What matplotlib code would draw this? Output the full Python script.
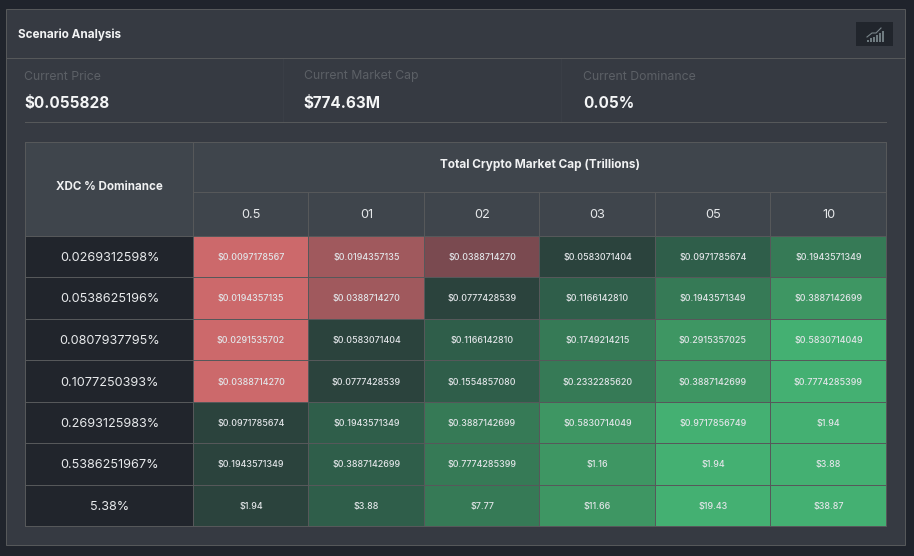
import matplotlib as mpl
from matplotlib import pyplot as plt
from matplotlib.colors import ListedColormap
from matplotlib.patches import Rectangle
import numpy as np

plt.rcParams['font.family'] = ['Inter', 'DejaVu Sans']

title = 'Scenario Analysis'
stat_labels = ['Current Price', 'Current Market Cap', 'Current Dominance']
stat_values = ['$0.055828', '$774.63M', '0.05%']
row_header = 'XDC % Dominance'
col_header = 'Total Crypto Market Cap (Trillions)'
market_caps = ['0.5', '01', '02', '03', '05', '10']
dominance = ['0.0269312598%', '0.0538625196%', '0.0807937795%', '0.1077250393%',
             '0.2693125983%', '0.5386251967%', '5.38%']
prices = [
    ['$0.0097178567', '$0.0194357135', '$0.0388714270', '$0.0583071404', '$0.0971785674', '$0.1943571349'],
    ['$0.0194357135', '$0.0388714270', '$0.0777428539', '$0.1166142810', '$0.1943571349', '$0.3887142699'],
    ['$0.0291535702', '$0.0583071404', '$0.1166142810', '$0.1749214215', '$0.2915357025', '$0.5830714049'],
    ['$0.0388714270', '$0.0777428539', '$0.1554857080', '$0.2332285620', '$0.3887142699', '$0.7774285399'],
    ['$0.0971785674', '$0.1943571349', '$0.3887142699', '$0.5830714049', '$0.9717856749', '$1.94'],
    ['$0.1943571349', '$0.3887142699', '$0.7774285399', '$1.16', '$1.94', '$3.88'],
    ['$1.94', '$3.88', '$7.77', '$11.66', '$19.43', '$38.87'],
]
# colour step of each cell, 0-2 reds then 3-7 greens
levels = [
    [0, 1, 2, 3, 4, 5],
    [0, 1, 3, 4, 5, 6],
    [0, 3, 4, 5, 6, 7],
    [0, 3, 4, 5, 6, 7],
    [3, 4, 5, 6, 7, 7],
    [3, 4, 5, 6, 7, 7],
    [3, 4, 5, 6, 7, 7],
]
level_colors = ['#cc696b', '#a0595d', '#7a4a50', '#2b433d', '#2f5e4a', '#367a56', '#3e9663', '#44b072']

page_bg = '#20242c'
panel_bg = '#363a42'
head_bg = '#3f454c'
row_bg = '#21252c'
line_col = '#56585a'
faint = '#5c6066'
LW = 0.72  # one pixel

x_edges = [25, 193, 308, 424, 539, 655, 770, 886]
y_edges = [236, 277, 319, 360, 402, 443, 485, 526]
top = 142
mid = 192

fig = plt.figure(figsize=(9.14, 5.56), dpi=100, facecolor=page_bg)
ax = fig.add_axes([0, 0, 1, 1])
ax.set_xlim(0, 914)
ax.set_ylim(556, 0)
ax.axis('off')

# panel and separators
ax.add_patch(Rectangle((6, 9), 899, 536, fc=panel_bg, ec=line_col, lw=LW, zorder=1))
ax.plot([6, 905], [58, 58], color=line_col, lw=LW, zorder=2)
ax.plot([25, 886], [122, 122], color=line_col, lw=LW, zorder=2)
for x in [283, 561]:
    ax.plot([x, x], [59, 121], color='#3a3e46', lw=LW, zorder=2)

ax.text(18, 34.6, title, color='#f2f3f4', fontsize=8.45, fontweight='bold', va='center', ha='left', zorder=5)

# icon button
ax.add_patch(Rectangle((856, 22), 37, 24, fc='#21252c', ec='none', zorder=2))
for bx, bh in zip([867, 870, 873, 876, 879, 881.5], [2, 4, 5, 7, 9, 11]):
    ax.add_patch(Rectangle((bx, 41.5 - bh), 2, bh, fc='#6f7b80', ec='none', zorder=3))
ax.plot([867, 872, 876, 881], [37, 33, 33, 28], color='#79858a', lw=0.8, zorder=3)

for i, (lab, val) in enumerate(zip(stat_labels, stat_values)):
    x = [24.5, 303.5, 583][i]
    ax.text(x, 76.5, lab, color=faint, fontsize=8.8, va='center', ha='left', zorder=5)
    ax.text(x, 103.2, val, color='#f4f5f6', fontsize=11, fontweight='bold', va='center', ha='left', zorder=5)

# table header
ax.add_patch(Rectangle((x_edges[0], top), x_edges[-1] - x_edges[0], y_edges[0] - top, fc=head_bg, ec=line_col, lw=LW, zorder=2))
ax.plot([x_edges[1], x_edges[1]], [top, y_edges[0]], color=line_col, lw=LW, zorder=3)
ax.plot([x_edges[1], x_edges[-1]], [mid, mid], color=line_col, lw=LW, zorder=3)
ax.text(109.5, 187, row_header, color='#f0f1f2', fontsize=8.35, fontweight='bold', va='center', ha='center', zorder=5)
ax.text(539.5, 165, col_header, color='#f0f1f2', fontsize=8.5, fontweight='bold', va='center', ha='center', zorder=5)

for j, cap in enumerate(market_caps):
    cx = (x_edges[j + 1] + x_edges[j + 2]) / 2 + 0.5
    ax.text(cx, 214.5, cap, color='#e6e8ea', fontsize=9.2, va='center', ha='center', zorder=5)
    if j > 0:
        ax.plot([x_edges[j + 1]] * 2, [mid, y_edges[0]], color=line_col, lw=LW, zorder=3)

# cells
cmap = ListedColormap(level_colors)
ax.pcolormesh(x_edges[1:], y_edges, np.array(levels), cmap=cmap, vmin=-0.5, vmax=7.5,
              edgecolors=line_col, linewidth=LW, zorder=2)
ax.pcolormesh(x_edges[:2], y_edges, np.zeros((7, 1)), cmap=ListedColormap([row_bg]),
              edgecolors=line_col, linewidth=LW, zorder=2)

for i, dom in enumerate(dominance):
    cy = (y_edges[i] + y_edges[i + 1]) / 2 + 1.5
    ax.text(109.5, cy, dom, color='#e8eaec', fontsize=9.1, va='center', ha='center', zorder=5)
    for j, price in enumerate(prices[i]):
        cx = (x_edges[j + 1] + x_edges[j + 2]) / 2 + 0.5
        ax.text(cx, cy - 0.5, price, color='#e2e5e8', fontsize=6.45, fontweight='medium', va='center', ha='center', zorder=5)

ax.add_patch(Rectangle((x_edges[0], top), x_edges[-1] - x_edges[0], y_edges[-1] - top, fc='none', ec=line_col, lw=LW, zorder=4))

plt.savefig('out.png', dpi=100, facecolor=fig.get_facecolor())
